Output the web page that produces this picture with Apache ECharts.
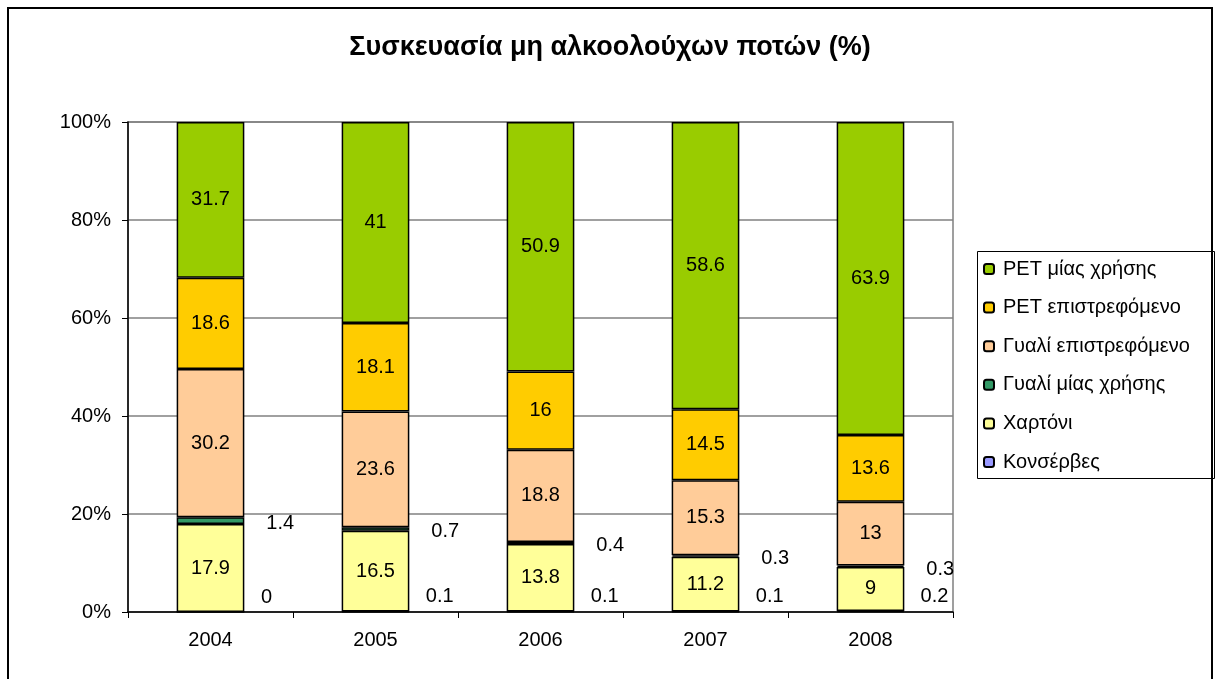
<!DOCTYPE html>
<html>
<head>
<meta charset="utf-8">
<script src="https://cdn.jsdelivr.net/npm/echarts@6/dist/echarts.min.js"></script>
<style>
  html, body { margin: 0; padding: 0; background: #fff; }
  #chart { width: 1220px; height: 679px; }
</style>
</head>
<body>
<div id="chart"></div>
<script>
// data
const years = ['2004', '2005', '2006', '2007', '2008']
const konserves = [0, 0.1, 0.1, 0.1, 0.2]
const xartoni = [17.9, 16.5, 13.8, 11.2, 9]
const gyaliMias = [1.4, 0.7, 0.4, 0.3, 0.3]
const gyaliEpistr = [30.2, 23.6, 18.8, 15.3, 13]
const petEpistr = [18.6, 18.1, 16, 14.5, 13.6]
const petMias = [31.7, 41, 50.9, 58.6, 63.9]
const yTicks = ['0%', '20%', '40%', '60%', '80%', '100%']

const rows = [
  { name: 'Κονσέρβες', values: konserves, color: '#9999FF', small: 'bottom' },
  { name: 'Χαρτόνι', values: xartoni, color: '#FFFF99' },
  { name: 'Γυαλί μίας χρήσης', values: gyaliMias, color: '#339966', small: 'side' },
  { name: 'Γυαλί επιστρεφόμενο', values: gyaliEpistr, color: '#FFCC99' },
  { name: 'PET επιστρεφόμενο', values: petEpistr, color: '#FFCC00' },
  { name: 'PET μίας χρήσης', values: petMias, color: '#99CC00' },
]

// totals per year, for the 100% stacking
const totals = years.map((y, i) => rows.reduce((s, r) => s + r.values[i], 0))

const font = 'Liberation Sans, Arial, sans-serif'

const labelFor = (r) => {
  const base = {
    show: true,
    color: '#000',
    fontFamily: font,
    fontSize: 20,
    formatter: (p) => String(r.values[p.dataIndex]),
  }
  if (r.small === 'bottom') return { ...base, position: 'right', distance: 16, offset: [0, -15] }
  if (r.small === 'side') return { ...base, position: 'right', distance: 22, offset: [0, 3] }
  return { ...base, position: 'inside' }
}

const series = rows.map((r) => ({
  name: r.name,
  type: 'bar',
  stack: 'total',
  barWidth: '41%',
  data: r.values.map((v, i) => v / totals[i] * 100),
  itemStyle: { color: r.color, borderColor: '#000', borderWidth: 1.5 },
  label: labelFor(r),
}))

const chart = echarts.init(document.getElementById('chart'))
chart.setOption({
  animation: false,
  backgroundColor: '#fff',
  textStyle: { fontFamily: font },
  title: {
    text: 'Συσκευασία μη αλκοολούχων ποτών (%)',
    left: 'center',
    top: 29,
    textStyle: { fontFamily: font, fontSize: 27, fontWeight: 'bold', color: '#000' },
  },
  graphic: [{
    type: 'rect',
    shape: { x: 8, y: 8, width: 1204, height: 700 },
    style: { fill: 'none', stroke: '#000', lineWidth: 2 },
    silent: true,
  }, {
    type: 'rect',
    shape: { x: 128, y: 122, width: 825, height: 490 },
    style: { fill: 'none', stroke: '#808080', lineWidth: 1.5 },
    silent: true,
    z: 0,
  }, {
    // legend frame
    type: 'rect',
    shape: { x: 977.5, y: 251.5, width: 237, height: 227 },
    style: { fill: 'none', stroke: '#000', lineWidth: 1 },
    silent: true,
  }],
  legend: {
    orient: 'vertical',
    left: 977,
    top: 251,
    data: rows.map((r) => r.name).reverse(),
    itemWidth: 10,
    itemHeight: 10,
    itemGap: 18.6,
    padding: [8, 6, 8, 6],
    textStyle: { fontFamily: font, fontSize: 20, color: '#000', padding: [0, 0, 0, 4] },
  },
  grid: { left: 128, right: 267, top: 122, bottom: 67 },
  xAxis: {
    type: 'category',
    data: years,
    axisLine: { lineStyle: { color: '#000', width: 1.5 } },
    axisTick: { show: true, length: 6, lineStyle: { color: '#000' } },
    axisLabel: { color: '#000', fontSize: 20, fontFamily: font, margin: 18 },
  },
  yAxis: {
    type: 'value',
    min: 0,
    max: 100,
    interval: 20,
    axisLine: { show: true, lineStyle: { color: '#000', width: 1.5 } },
    axisTick: { show: true, length: 6, lineStyle: { color: '#000' } },
    splitLine: { lineStyle: { color: '#808080', width: 1.5 } },
    axisLabel: {
      color: '#000', fontSize: 20, fontFamily: font, margin: 17,
      formatter: (v) => yTicks[Math.round(v / 20)],
    },
  },
  series: series,
})
</script>
</body>
</html>
